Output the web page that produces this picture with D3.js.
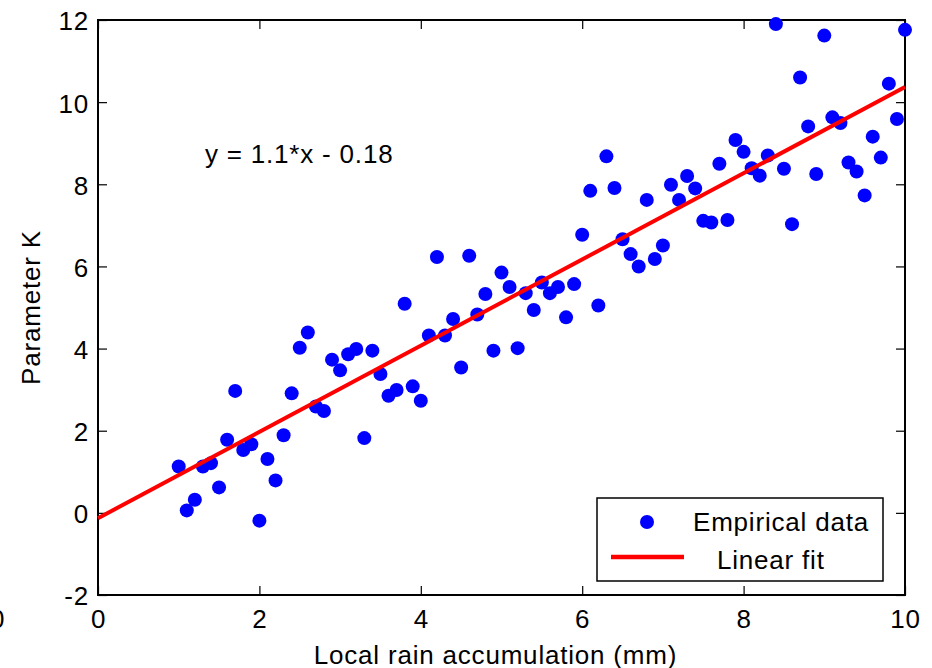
<!DOCTYPE html>
<html>
<head>
<meta charset="utf-8">
<script src="https://cdn.jsdelivr.net/npm/d3@7/dist/d3.min.js"></script>
<style>
  html, body { margin: 0; padding: 0; background: #fff; }
  svg text { font-family: "Liberation Sans", Arial, sans-serif; font-size: 26px; letter-spacing: 0.8px; fill: #000; }
</style>
</head>
<body>
<svg id="chart" width="932" height="668"></svg>
<script>
(function () {
  'use strict';

  // rain accumulation (mm) for each sample
  var rainX = [
    1.0, 1.1, 1.2, 1.3, 1.4, 1.5, 1.6, 1.7, 1.8, 1.9,
    2.0, 2.1, 2.2, 2.3, 2.4, 2.5, 2.6, 2.7, 2.8, 2.9,
    3.0, 3.1, 3.2, 3.3, 3.4, 3.5, 3.6, 3.7, 3.8, 3.9,
    4.0, 4.1, 4.2, 4.3, 4.4, 4.5, 4.6, 4.7, 4.8, 4.9,
    5.0, 5.1, 5.2, 5.3, 5.4, 5.5, 5.6, 5.7, 5.8, 5.9,
    6.0, 6.1, 6.2, 6.3, 6.4, 6.5, 6.6, 6.7, 6.8, 6.9,
    7.0, 7.1, 7.2, 7.3, 7.4, 7.5, 7.6, 7.7, 7.8, 7.9,
    8.0, 8.1, 8.2, 8.3, 8.4, 8.5, 8.6, 8.7, 8.8, 8.9,
    9.0, 9.1, 9.2, 9.3, 9.4, 9.5, 9.6, 9.7, 9.8, 9.9,
    10.0
  ];
  // parameter K
  var paramK = [
    1.13, 0.06, 0.32, 1.13, 1.21, 0.62, 1.78, 2.97, 1.53, 1.67,
    -0.19, 1.31, 0.79, 1.89, 2.91, 4.02, 4.39, 2.59, 2.48, 3.73,
    3.47, 3.86, 3.99, 1.82, 3.95, 3.38, 2.85, 2.99, 5.09, 3.08,
    2.73, 4.32, 6.23, 4.32, 4.72, 3.54, 6.26, 4.83, 5.33, 3.95,
    5.85, 5.50, 4.01, 5.35, 4.94, 5.61, 5.35, 5.50, 4.76, 5.57,
    6.77, 7.84, 5.05, 8.68, 7.91, 6.66, 6.30, 6.00, 7.62, 6.18,
    6.51, 7.99, 7.62, 8.20, 7.90, 7.11, 7.07, 8.50, 7.13, 9.08,
    8.79, 8.39, 8.21, 8.70, 11.90, 8.38, 7.03, 10.60, 9.41, 8.25,
    11.62, 9.63, 9.49, 8.53, 8.31, 7.73, 9.16, 8.65, 10.45, 9.59,
    11.76
  ];
  var fitSlope = 1.05;
  var fitIntercept = -0.13;
  var fitLabel = 'y = 1.1*x - 0.18';

  var xTicks = [0, 2, 4, 6, 8, 10];
  var yTicks = [-2, 0, 2, 4, 6, 8, 10, 12];
  var legendLabels = ['Empirical data', 'Linear fit'];

  var svg = d3.select('#chart');
  var left = 98, right = 905, top = 20, bottom = 595;

  var x = d3.scaleLinear().domain([0, 10]).range([left, right]);
  var y = d3.scaleLinear().domain([-2, 12]).range([bottom, top]);

  // plain hyphen minus, like the original
  var fmt = function (d) { return String(d); };

  // inward ticks on all four sides, matlab style
  function styleAxis(g) {
    g.select('.domain').remove();
    g.selectAll('.tick line').attr('stroke', '#000').attr('stroke-width', 1.2);
    g.selectAll('.tick text').attr('font-family', null).attr('font-size', null);
  }

  svg.append('g').attr('transform', 'translate(0,' + bottom + ')')
    .call(d3.axisBottom(x).tickValues(xTicks).tickFormat(fmt).tickSizeInner(-9).tickSizeOuter(0).tickPadding(14.5))
    .call(styleAxis);
  svg.append('g').attr('transform', 'translate(0,' + top + ')')
    .call(d3.axisTop(x).tickValues(xTicks).tickSizeInner(-9).tickSizeOuter(0).tickFormat(''))
    .call(styleAxis);
  svg.append('g').attr('transform', 'translate(' + left + ',0)')
    .call(d3.axisLeft(y).tickValues(yTicks).tickFormat(fmt).tickSizeInner(-9).tickSizeOuter(0).tickPadding(9))
    .call(styleAxis)
    .selectAll('.tick text').attr('dy', '0.38em');
  svg.append('g').attr('transform', 'translate(' + right + ',0)')
    .call(d3.axisRight(y).tickValues(yTicks).tickSizeInner(-9).tickSizeOuter(0).tickFormat(''))
    .call(styleAxis);

  svg.append('rect')
    .attr('x', left).attr('y', top)
    .attr('width', right - left).attr('height', bottom - top)
    .attr('fill', 'none').attr('stroke', '#000').attr('stroke-width', 2);

  // scatter
  svg.append('g').selectAll('circle')
    .data(rainX.map(function (v, i) { return [v, paramK[i]]; }))
    .enter().append('circle')
    .attr('cx', function (d) { return x(d[0]); })
    .attr('cy', function (d) { return y(d[1]); })
    .attr('r', 7)
    .attr('fill', '#0000ff');

  // fit line over the full x range
  var fitDomain = x.domain();
  svg.append('line')
    .attr('x1', x(fitDomain[0])).attr('y1', y(fitSlope * fitDomain[0] + fitIntercept))
    .attr('x2', x(fitDomain[1])).attr('y2', y(fitSlope * fitDomain[1] + fitIntercept))
    .attr('stroke', '#ff0000').attr('stroke-width', 4);

  svg.append('text').attr('x', 205).attr('y', 163).text(fitLabel);

  // axis titles
  svg.append('text')
    .attr('x', (left + right) / 2 - 6).attr('y', 664)
    .attr('text-anchor', 'middle')
    .text('Local rain accumulation (mm)');
  svg.append('text')
    .attr('transform', 'translate(40,' + (top + bottom) / 2 + ') rotate(-90)')
    .attr('text-anchor', 'middle')
    .text('Parameter K');

  // stray clipped label at the far left edge
  svg.append('text').attr('x', -10).attr('y', 628).text('0');

  // legend
  var lg = svg.append('g');
  lg.append('rect')
    .attr('x', 597).attr('y', 498).attr('width', 286).attr('height', 83)
    .attr('fill', '#fff').attr('stroke', '#000').attr('stroke-width', 1.5);
  lg.append('circle').attr('cx', 647).attr('cy', 522).attr('r', 7).attr('fill', '#0000ff');
  lg.append('line').attr('x1', 611).attr('x2', 684).attr('y1', 557).attr('y2', 557)
    .attr('stroke', '#ff0000').attr('stroke-width', 4.5);
  lg.append('text').attr('x', 693).attr('y', 531).text(legendLabels[0]);
  lg.append('text').attr('x', 717).attr('y', 569).text(legendLabels[1]);
})();
</script>
</body>
</html>
